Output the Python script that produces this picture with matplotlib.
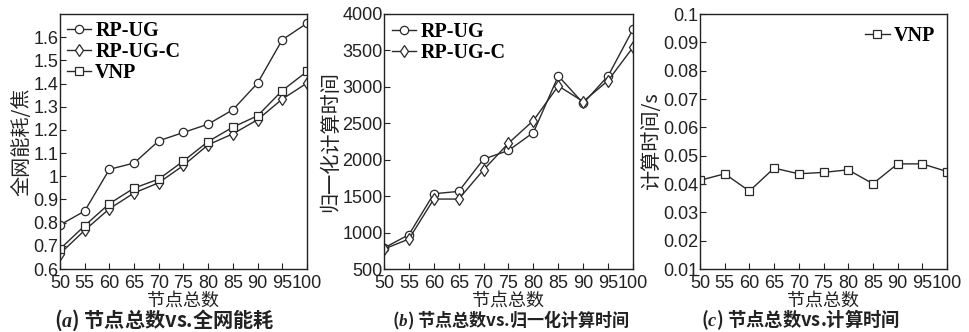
import matplotlib
matplotlib.use("Agg")
import matplotlib.pyplot as plt
from matplotlib.font_manager import FontProperties

plt.rcParams["mathtext.fontset"] = "custom"
plt.rcParams["mathtext.it"] = "Liberation Serif:italic:bold"
plt.rcParams["mathtext.rm"] = "Liberation Serif:bold"

nodes = [50, 55, 60, 65, 70, 75, 80, 85, 90, 95, 100]
xticks = nodes

energy_rpug = [0.79, 0.85, 1.03, 1.057, 1.153, 1.189, 1.225, 1.287, 1.402, 1.589, 1.660]
energy_rpugc = [0.666, 0.767, 0.860, 0.928, 0.972, 1.047, 1.136, 1.183, 1.244, 1.333, 1.402]
energy_vnp = [0.686, 0.787, 0.882, 0.949, 0.988, 1.066, 1.150, 1.212, 1.261, 1.370, 1.452]

ntime_rpug = [788, 971, 1533, 1565, 2008, 2127, 2373, 3150, 2775, 3150, 3790]
ntime_rpugc = [774, 911, 1460, 1460, 1862, 2227, 2538, 3013, 2798, 3086, 3543]

vnp_time = [0.0413, 0.0436, 0.0375, 0.0456, 0.0436, 0.0441, 0.045, 0.0401, 0.0471, 0.0471, 0.0444]

ylabels = ["全网能耗/焦", "归一化计算时间", "计算时间/s"]
xlabel = "节点总数"
titles_letter = ["a", "b", "c"]
titles_rest = ["节点总数vs.全网能耗", "节点总数vs.归一化计算时间", "节点总数vs.计算时间"]

cjk = ["Noto Sans CJK SC", "DejaVu Sans"]
tick_font = "Liberation Sans"
leg_font = FontProperties(family="Liberation Serif", weight="bold", size=14.5)

fig = plt.figure(figsize=(9.7, 3.32), dpi=100)
W, H = 970, 332
boxes = [(60, 307), (384, 633), (700, 947)]
title_cx = [164, 511, 801]
title_fs = [14.5, 12.3, 13.2]
top_px, bot_px = 14, 269
axes = []
for (l, r) in boxes:
    ax = fig.add_axes([l / W, 1 - bot_px / H, (r - l) / W, (bot_px - top_px) / H])
    axes.append(ax)

lc = "#2a2a2a"
kw = dict(color=lc, lw=1.0, mfc="white", mec=lc, mew=0.9)
leg_kw = dict(frameon=False, prop=leg_font, handlelength=1.2, handletextpad=0.2,
              labelspacing=0.05, borderpad=0.0)

ax = axes[0]
ax.plot(nodes, energy_rpug, marker="o", ms=6, label="RP-UG", **kw)
ax.plot(nodes, energy_rpugc, marker="d", ms=6.5, label="RP-UG-C", **kw)
ax.plot(nodes, energy_vnp, marker="s", ms=5.5, label="VNP", **kw)
ax.set_ylim(0.6, 1.7)
ax.set_yticks([0.6, 0.7, 0.8, 0.9, 1.0, 1.1, 1.2, 1.3, 1.4, 1.5, 1.6])
ax.set_yticklabels(["0.6", "0.7", "0.8", "0.9", "1", "1.1", "1.2", "1.3", "1.4", "1.5", "1.6"])
ax.legend(loc="upper left", borderaxespad=0.35, **leg_kw)

ax = axes[1]
ax.plot(nodes, ntime_rpug, marker="o", ms=6, label="RP-UG", **kw)
ax.plot(nodes, ntime_rpugc, marker="d", ms=6.5, label="RP-UG-C", **kw)
ax.set_ylim(500, 4000)
ax.set_yticks([500, 1000, 1500, 2000, 2500, 3000, 3500, 4000])
ax.legend(loc="upper left", borderaxespad=0.4, **leg_kw)

ax = axes[2]
ax.plot(nodes, vnp_time, marker="s", ms=5.5, label="VNP", **kw)
ax.set_ylim(0.01, 0.1)
ax.set_yticks([0.01, 0.02, 0.03, 0.04, 0.05, 0.06, 0.07, 0.08, 0.09, 0.1])
ax.set_yticklabels(["0.01", "0.02", "0.03", "0.04", "0.05", "0.06", "0.07", "0.08", "0.09", "0.1"])
ax.legend(loc="upper right", borderaxespad=0.6, **leg_kw)

for i, ax in enumerate(axes):
    ax.set_xlim(50, 100)
    ax.set_xticks(xticks)
    ax.tick_params(direction="in", length=4, width=0.8, labelsize=13, colors="#222222")
    ax.tick_params(axis="x", pad=4)
    ax.tick_params(axis="y", pad=1)
    for lab in ax.get_xticklabels() + ax.get_yticklabels():
        lab.set_fontfamily(tick_font)
    for s in ax.spines.values():
        s.set_linewidth(1.0)
        s.set_color("#222222")
    ax.set_xlabel(xlabel, family=cjk, fontsize=13, labelpad=0, color="#222222")
    ax.set_ylabel(ylabels[i], family=cjk, fontsize=14.5, labelpad=1, color="#222222")
    fig.text(title_cx[i] / W, 1 - 320 / H, "(" + r"$\mathit{" + titles_letter[i] + "}$" + ") " + titles_rest[i],
             ha="center", va="center", family=cjk, fontsize=title_fs[i], fontweight="bold",
             color="#222222")

fig.savefig("out.png", dpi=100)
